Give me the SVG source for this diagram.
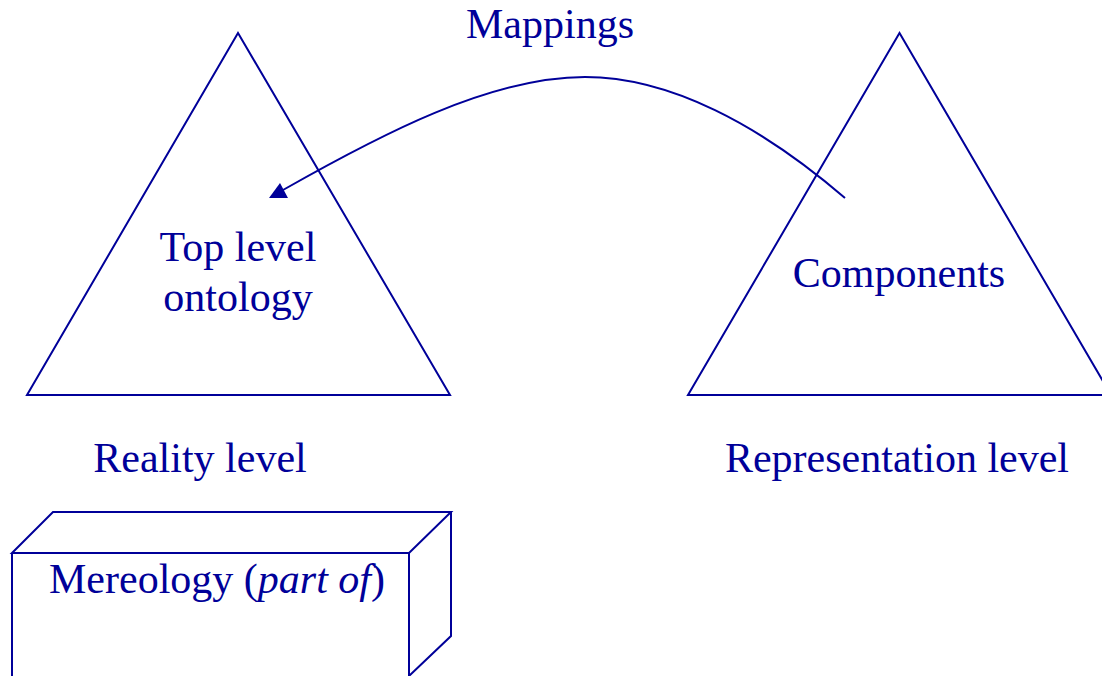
<svg xmlns="http://www.w3.org/2000/svg" width="1102" height="676" viewBox="0 0 1102 676">
  <style>
    .shape { fill: none; stroke: #000099; stroke-width: 2; stroke-linejoin: miter; }
    .label { font-family: "Liberation Serif", "Times New Roman", serif; font-size: 42px; fill: #000099; text-anchor: middle; }
  </style>
  <rect width="1102" height="676" fill="#ffffff"/>

  <g id="top-level-ontology">
    <polygon class="shape" points="238,33 27,395 450,395"/>
    <text class="label" x="238" y="261">Top level</text>
    <text class="label" x="238" y="311">ontology</text>
  </g>

  <g id="components">
    <polygon class="shape" points="899.5,33 688,395 1111,395"/>
    <text class="label" x="899" y="287">Components</text>
  </g>

  <g id="reality-level">
    <text class="label" x="200" y="472">Reality level</text>
  </g>

  <g id="representation-level">
    <text class="label" x="897" y="472">Representation level</text>
  </g>

  <g id="mereology">
    <path class="shape" d="M12,553 L53,512 L451,512 L409,553 Z M409,553 L409,676 M451,512 L451,636 L409,676 M12,553 L12,676"/>
    <text class="label" x="217" y="593">Mereology (<tspan font-style="italic">part of</tspan>)</text>
  </g>

  <g id="connectors">
    <path class="shape" d="M845,198 C760,125 670,77 585,77 C490,77 380,135 283,190"/>
    <polygon points="269,198 280,183 288,198" fill="#000099"/>
    <text class="label" x="550" y="38">Mappings</text>
  </g>
</svg>
